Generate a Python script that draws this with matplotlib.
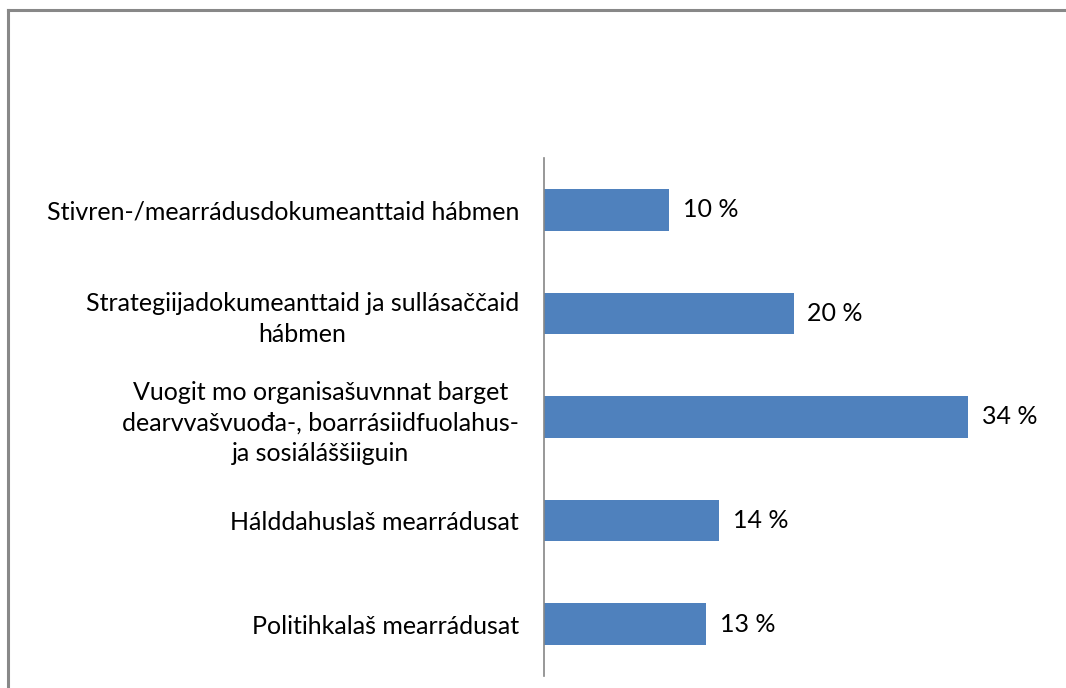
import matplotlib.pyplot as plt
from matplotlib.lines import Line2D

categories = [
    'Stivren-/mearrádusdokumeanttaid hábmen',
    'Strategiijadokumeanttaid ja sullásaččaid\nhábmen',
    'Vuogit mo organisašuvnnat barget\ndearvvašvuođa-, boarrásiidfuolahus-\nja sosiáláššiiguin',
    'Hálddahuslaš mearrádusat',
    'Politihkalaš mearrádusat',
]
values = [10, 20, 34, 14, 13]
value_labels = ['10 %', '20 %', '34 %', '14 %', '13 %']

plt.rcParams['font.family'] = ['Lato', 'DejaVu Sans']

W, H = 1066, 688
fig = plt.figure(figsize=(W / 100, H / 100), dpi=100)
ax = fig.add_axes([544 / W, 1 - 676 / H, 499 / W, 518 / H])

pos = list(range(len(values)))
ax.barh(pos, values, height=0.4, color='#4F81BD')
ax.set_ylim(len(values) - 0.5, -0.5)
ax.set_xlim(0, 40)

ax.set_yticks(pos)
ax.set_yticklabels(categories, fontsize=18, multialignment='center', linespacing=1.4)
ax.tick_params(axis='y', length=0, pad=18)
ax.set_xticks([])
for s in ['top', 'right', 'bottom']:
    ax.spines[s].set_visible(False)
ax.spines['left'].set_color('#868686')
ax.spines['left'].set_linewidth(1.2)

for p, v, lab in zip(pos, values, value_labels):
    ax.annotate(lab, xy=(v, p), xytext=(10, 0), textcoords='offset points',
                va='center', ha='left', fontsize=18)

# outer chart frame
fx = 8 / W
fy = 1 - 10 / H
fig.add_artist(Line2D([fx, fx], [0, fy], color='#888888', lw=2.2))
fig.add_artist(Line2D([fx, 1], [fy, fy], color='#888888', lw=2.2))

fig.savefig('out.png', dpi=100)
